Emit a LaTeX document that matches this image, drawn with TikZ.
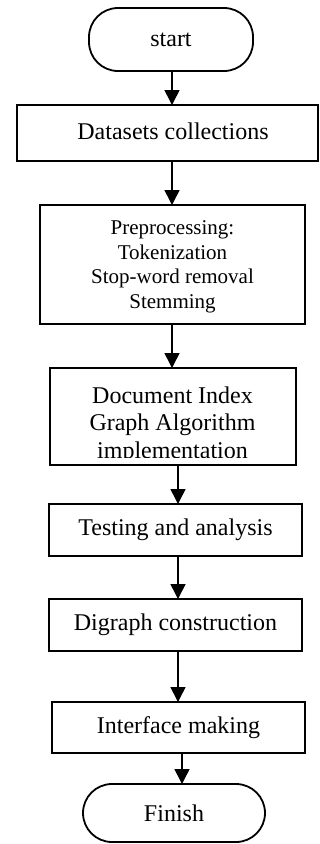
\documentclass[tikz,border=0pt]{standalone}
\usepackage{fontspec}
\setmainfont{Liberation Serif}
\usetikzlibrary{arrows.meta}
\begin{document}
\begin{tikzpicture}[x=1pt,y=-1pt,
  box/.style={draw=black,line width=1.8pt,inner sep=0pt,outer sep=0pt,
    font=\fontsize{24}{27.5}\selectfont,align=center},
  term/.style={box,rounded corners=29pt},
  arr/.style={line width=1.6pt,-{Triangle[length=15pt,width=15pt]}},
  txt/.style={inner sep=0pt,outer sep=0pt,font=\fontsize{24}{27.5}\selectfont,align=center}]
\useasboundingbox (0,0) rectangle (320,844);
\node[term,minimum width=164pt,minimum height=63pt] (start) at (171,39.5) {start};
\node[box,minimum width=301pt,minimum height=56pt,
  label={[txt,xshift=5.5pt,yshift=2pt]center:Datasets collections}] (data) at (167.5,133) {};
\node[box,minimum width=265pt,minimum height=119pt,
  label={[txt,yshift=-2.5pt,font=\fontsize{21}{24.6}\selectfont]center:Preprocessing:\\Tokenization\\Stop-word removal\\Stemming}] (pre) at (172.5,264.5) {};
\begin{scope}
  \clip (50,368) rectangle (296,457);
  \node[txt] (doctext) at (172.5,425) {Document Index\\Graph Algorithm\\implementation};
\end{scope}
\node[box,minimum width=246pt,minimum height=97pt] (doc) at (173,416.5) {};
\node[box,minimum width=253pt,minimum height=52pt] (test) at (175.5,530) {Testing and analysis};
\node[box,minimum width=253pt,minimum height=52pt] (dig) at (175.5,625) {Digraph construction};
\node[box,minimum width=253pt,minimum height=51pt] (int) at (178.5,727.5) {Interface making};
\node[term,minimum width=182pt,minimum height=58pt] (fin) at (174,813) {Finish};
\draw[arr] ([xshift=1pt]start.south) -- ([xshift=1pt]start.south |- data.north);
\draw[arr] ([xshift=4.5pt]data.south) -- ([xshift=4.5pt]data.south |- pre.north);
\draw[arr] ([xshift=-0.5pt]pre.south) -- ([xshift=-0.5pt]pre.south |- doc.north);
\draw[arr] ([xshift=5pt]doc.south) -- ([xshift=5pt]doc.south |- test.north);
\draw[arr] ([xshift=2.5pt]test.south) -- ([xshift=2.5pt]test.south |- dig.north);
\draw[arr] ([xshift=2.5pt]dig.south) -- ([xshift=2.5pt]dig.south |- int.north);
\draw[arr] ([xshift=3.5pt]int.south) -- ([xshift=3.5pt]int.south |- fin.north);
\end{tikzpicture}
\end{document}
